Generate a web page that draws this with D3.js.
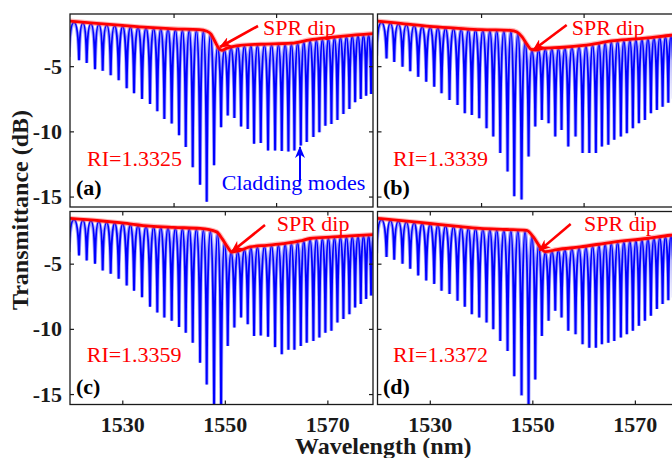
<!DOCTYPE html>
<html>
<head>
<meta charset="utf-8">
<script src="https://cdn.jsdelivr.net/npm/d3@7"></script>
<style>
  body { margin: 0; background: #fff; }
</style>
</head>
<body>
<script>
// cladding mode dip wavelengths (nm), shared by the four spectra
const dipWl = [1519.6, 1521.56, 1523.06, 1524.68, 1526.18, 1527.74, 1529.30, 1530.86, 1532.29, 1533.85,
  1535.41, 1536.83, 1538.20, 1539.64, 1541.07, 1542.38, 1543.74, 1545.17, 1546.47, 1547.90,
  1549.27, 1550.57, 1551.86, 1553.17, 1554.47, 1555.70, 1557.01, 1558.43, 1559.80, 1561.11,
  1562.40, 1563.57, 1564.82, 1565.98, 1567.27, 1568.44, 1569.61, 1570.79, 1571.96, 1573.13,
  1574.30, 1575.41, 1576.52, 1577.56, 1578.53, 1579.50];

// dip depths (dB)
const depthA = [-4.3, -4.54, -4.75, -5.23, -5.36, -5.69, -6.07, -6.70, -7.08, -7.52,
  -7.9, -8.45, -9.05, -9.4, -10.3, -11.2, -12.75, -14.1, -15.4, -12.6,
  -9.68, -8.79, -8.97, -9.63, -9.81, -10.95, -10.9, -11.46, -11.46, -11.51,
  -11.54, -11.46, -11.08, -10.82, -10.44, -10.06, -9.56, -9.43, -9.12, -8.66,
  -8.28, -7.77, -7.52, -7.27, -7.14, -7.0];
const depthB = [-4.2, -4.41, -4.67, -5.05, -5.38, -5.82, -6.2, -6.58, -7.08, -7.6,
  -7.98, -8.61, -8.74, -9.0, -9.76, -10.4, -11.66, -13.07, -14.98, -15.23,
  -11.92, -9.63, -9.12, -9.37, -10.4, -9.89, -11.16, -10.4, -11.66, -11.66,
  -11.66, -11.16, -11.03, -10.65, -10.4, -10.14, -9.76, -9.37, -9.12, -8.61,
  -8.36, -8.11, -7.8, -7.5, -7.3, -7.1];
const depthC = [-4.1, -4.37, -4.75, -5.0, -5.52, -5.78, -6.16, -6.68, -7.07, -7.58,
  -8.3, -8.74, -9.13, -9.38, -9.85, -10.29, -11.06, -12.6, -14.27, -16.5,
  -16.5, -11.31, -9.9, -9.13, -9.64, -10.54, -10.5, -10.6, -11.4, -11.95,
  -11.6, -11.6, -11.31, -11.06, -10.93, -10.67, -10.29, -10.15, -9.52, -9.25,
  -8.87, -8.36, -8.1, -7.71, -7.45, -7.3];
const depthD = [-4.2, -4.49, -4.70, -5.0, -5.39, -5.9, -6.29, -6.55, -7.07, -7.32,
  -7.84, -8.3, -8.87, -9.13, -9.51, -10.02, -10.93, -11.7, -13.63, -15.1,
  -16.2, -13.89, -10.54, -9.38, -8.61, -9.13, -10.15, -10.41, -11.18, -11.44,
  -11.44, -11.18, -11.06, -10.93, -10.67, -10.41, -10.15, -9.77, -9.38, -9.0,
  -8.48, -8.1, -7.8, -7.6, -7.4, -7.2];

// upper envelope (red curve), [wavelength, dB]
const envA = [[1519.8, -1.54], [1525, -1.72], [1530, -1.88], [1535, -2.03], [1540, -2.14], [1545, -2.2],
  [1546.5, -2.32], [1547.3, -2.55], [1548, -3.05], [1548.8, -3.62], [1549.4, -3.78], [1550.3, -3.64],
  [1551.5, -3.5], [1553, -3.4], [1557, -3.32], [1563, -3.24], [1566.6, -2.98], [1570, -2.82],
  [1573.1, -2.69], [1578.9, -2.5]];
const envB = [[1519.8, -1.54], [1525, -1.75], [1530, -1.95], [1535, -2.08], [1540, -2.2], [1545.7, -2.25],
  [1547, -2.38], [1548, -2.75], [1549, -3.35], [1549.8, -3.72], [1550.6, -3.76], [1552, -3.64],
  [1556, -3.55], [1560, -3.4], [1566, -3.05], [1572, -2.85], [1577, -2.63], [1579, -2.55]];
const envC = [[1519.8, -1.53], [1525.6, -1.71], [1530, -1.88], [1535.4, -2.12], [1540, -2.22], [1545.2, -2.3],
  [1548.4, -2.56], [1549.5, -3.1], [1550.5, -3.7], [1551.35, -4.11], [1553, -3.98], [1554.9, -3.72],
  [1558.2, -3.59], [1561.4, -3.46], [1564.7, -3.26], [1566.6, -3.07], [1571.1, -2.95], [1574.4, -2.87],
  [1578.9, -2.77]];
const envD = [[1519.8, -1.53], [1525, -1.72], [1530, -1.92], [1535, -2.12], [1539.8, -2.3], [1545, -2.38],
  [1548.9, -2.45], [1550.2, -2.95], [1551.5, -3.72], [1552.5, -4.08], [1554.8, -3.92], [1559.3, -3.72],
  [1565.8, -3.34], [1572.3, -3.07], [1576.9, -2.82], [1579, -2.75]];

const tags = ["(a)", "(b)", "(c)", "(d)"];
const riLabels = ["RI=1.3325", "RI=1.3339", "RI=1.3359", "RI=1.3372"];
const yTicks = [-5, -10, -15];
const xTicksTop = [1540, 1560];
const xTicksBottom = [1530, 1550, 1570];

// annotation anchors in data units: SPR text, arrow tail, arrow head
const sprText = [[1557.44, -2.61], [1557.68, -2.61], [1560.12, -2.47], [1560.08, -2.47]];
const sprFrom = [[1556.47, -1.92], [1556.7, -1.84], [1557.83, -2.04], [1557.48, -1.96]];
const sprTo = [[1549.06, -3.53], [1550.19, -3.76], [1551.34, -4.08], [1551.36, -4.0]];
const riPos = [[1523.12, -12.62], [1522.82, -12.62], [1523.06, -12.54], [1522.82, -12.54]];
const tagPos = [[1520.97, -14.88], [1520.87, -14.88], [1520.97, -14.96], [1520.87, -14.96]];
const claddingText = [1549.39, -14.5];
const claddingArrow = [1564.66, -13.85, -11.2];

const panels = [
  {depth: depthA, env: envA, col: 0, row: 0},
  {depth: depthB, env: envB, col: 1, row: 0},
  {depth: depthC, env: envC, col: 0, row: 1},
  {depth: depthD, env: envD, col: 1, row: 1}
];

const width = 672, height = 458;
const colLeft = [70, 377.5], rowTop = [14, 211.5];
const pw = 303, ph = 193;
const ink = "#1a1a1a";
const serif = '"Liberation Serif", "Times New Roman", serif';

const x = d3.scaleLinear().domain([1519.8, 1578.9]);
const y = d3.scaleLinear().domain([-15.8, -1.0]);

const svg = d3.select("body").append("svg")
    .attr("width", width)
    .attr("height", height)
    .style("display", "block");

const defs = svg.append("defs");
[["ahRed", "#ff0000"], ["ahBlue", "#0000ff"]].forEach(([id, c]) => {
  defs.append("marker")
      .attr("id", id)
      .attr("viewBox", "0 0 12 10")
      .attr("refX", 11)
      .attr("refY", 5)
      .attr("markerWidth", 12)
      .attr("markerHeight", 10)
      .attr("markerUnits", "userSpaceOnUse")
      .attr("orient", "auto")
    .append("path")
      .attr("d", "M0,0 L12,5 L0,10 L3.5,5 Z")
      .attr("fill", c);
});

function label(g, px, py, str, size, color, bold) {
  return g.append("text")
      .attr("x", px).attr("y", py)
      .attr("fill", color)
      .attr("font-size", size)
      .style("font-family", serif)
      .style("font-weight", bold ? "bold" : "normal")
      .text(str);
}

function styleAxis(g, labels) {
  g.select(".domain").remove();
  g.selectAll(".tick line").attr("stroke", ink).attr("stroke-width", 1.2);
  g.attr("font-size", 22).attr("font-family", null);
  g.selectAll(".tick text")
      .attr("fill", ink)
      .style("font-family", serif)
      .style("font-weight", "bold");
  if (!labels) g.selectAll(".tick text").remove();
}

panels.forEach((pn, i) => {
  const left = colLeft[pn.col], top = rowTop[pn.row];
  const px = x.copy().range([left, left + pw]);
  const py = y.copy().range([top + ph, top]);
  const g = svg.append("g");

  defs.append("clipPath").attr("id", "clip" + i)
    .append("rect")
      .attr("x", left).attr("y", top)
      .attr("width", pw).attr("height", ph);

  const plot = g.append("g").attr("clip-path", `url(#clip${i})`);

  // peaks of the comb sit on the envelope
  const envScale = d3.scaleLinear()
      .domain(pn.env.map(d => d[0]))
      .range(pn.env.map(d => d[1]))
      .clamp(true);

  const path = d3.path();
  dipWl.forEach((w, k) => {
    const xd = px(w), yd = py(pn.depth[k]);
    if (k === 0) { path.moveTo(xd, yd); return; }
    const w0 = dipWl[k - 1];
    const x0 = px(w0), y0 = py(pn.depth[k - 1]);
    const xp = px((w0 + w) / 2), yp = py(envScale((w0 + w) / 2)) + 0.8;
    let dx = xp - x0;
    path.bezierCurveTo(x0 + 0.12 * dx, y0 - 0.6 * (y0 - yp), xp - 0.55 * dx, yp, xp, yp);
    dx = xd - xp;
    path.bezierCurveTo(xp + 0.55 * dx, yp, xd - 0.12 * dx, yd - 0.6 * (yd - yp), xd, yd);
  });

  plot.append("path")
      .attr("d", path.toString())
      .attr("fill", "none")
      .attr("stroke", "#4a4aff")
      .attr("stroke-opacity", 0.5)
      .attr("stroke-width", 3.6);
  plot.append("path")
      .attr("d", path.toString())
      .attr("fill", "none")
      .attr("stroke", "#0000ff")
      .attr("stroke-width", 2);

  const envLine = d3.line()
      .x(d => px(d[0]))
      .y(d => py(d[1]))
      .curve(d3.curveMonotoneX);
  plot.append("path")
      .attr("d", envLine(pn.env))
      .attr("fill", "none")
      .attr("stroke", "#ff5050")
      .attr("stroke-opacity", 0.4)
      .attr("stroke-width", 5);
  plot.append("path")
      .attr("d", envLine(pn.env))
      .attr("fill", "none")
      .attr("stroke", "#ff0000")
      .attr("stroke-width", 2.8);

  // frame and ticks
  g.append("rect")
      .attr("x", left).attr("y", top)
      .attr("width", pw).attr("height", ph)
      .attr("fill", "none")
      .attr("stroke", ink)
      .attr("stroke-width", 1.3);

  g.append("g")
      .attr("transform", `translate(${left},0)`)
      .call(d3.axisLeft(py).tickValues(yTicks).tickSize(-4).tickPadding(8).tickFormat(d => String(d)))
      .call(a => styleAxis(a, pn.col === 0));
  g.append("g")
      .attr("transform", `translate(${left + pw},0)`)
      .call(d3.axisRight(py).tickValues(yTicks).tickSize(-4))
      .call(a => styleAxis(a, false));
  const xt = pn.row === 0 ? xTicksTop : xTicksBottom;
  g.append("g")
      .attr("transform", `translate(0,${top + ph})`)
      .call(d3.axisBottom(px).tickValues(xt).tickSize(-4).tickPadding(12).tickFormat(d => String(d)))
      .call(a => styleAxis(a, pn.row === 1));
  g.append("g")
      .attr("transform", `translate(0,${top})`)
      .call(d3.axisTop(px).tickValues(xt).tickSize(-4))
      .call(a => styleAxis(a, false));

  // annotations
  g.append("line")
      .attr("x1", px(sprFrom[i][0])).attr("y1", py(sprFrom[i][1]))
      .attr("x2", px(sprTo[i][0])).attr("y2", py(sprTo[i][1]))
      .attr("stroke", "#ff0000")
      .attr("stroke-width", 2.6)
      .attr("marker-end", "url(#ahRed)");
  label(g, px(sprText[i][0]), py(sprText[i][1]), "SPR dip", 22, "#ff0000", false);
  label(g, px(riPos[i][0]), py(riPos[i][1]), riLabels[i], 22, "#ff0000", false);
  label(g, px(tagPos[i][0]), py(tagPos[i][1]), tags[i], 22, "#000", true);

  if (i === 0) {
    g.append("line")
        .attr("x1", px(claddingArrow[0])).attr("y1", py(claddingArrow[1]))
        .attr("x2", px(claddingArrow[0])).attr("y2", py(claddingArrow[2]))
        .attr("stroke", "#0000ff")
        .attr("stroke-width", 2)
        .attr("marker-end", "url(#ahBlue)");
    label(g, px(claddingText[0]), py(claddingText[1]), "Cladding modes", 22, "#0000ff", false);
  }
});

label(svg, 0, 0, "Transmittance (dB)", 24, ink, true)
    .attr("transform", "translate(28,210) rotate(-90)")
    .attr("text-anchor", "middle");

label(svg, 383.3, 454, "Wavelength (nm)", 24, ink, true)
    .attr("text-anchor", "middle");
</script>
</body>
</html>
